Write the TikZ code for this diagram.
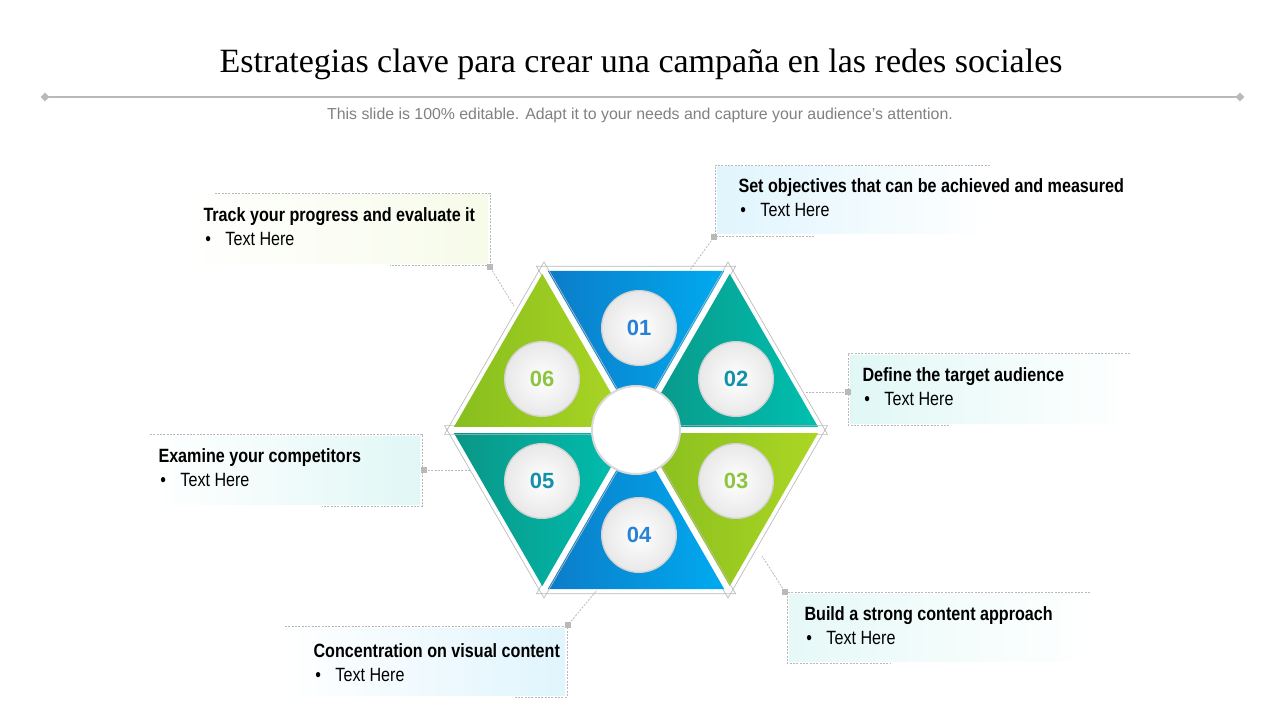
\documentclass[tikz,border=0pt]{standalone}
\usepackage{fontspec}
\setmainfont{Liberation Serif}
\setsansfont{Liberation Sans}
\newfontfamily\narrowfont[FakeStretch=0.84]{Liberation Sans}
\usetikzlibrary{calc,shapes.geometric}
\definecolor{hexblueA}{RGB}{12,124,200}
\definecolor{hexblueB}{RGB}{0,170,240}
\definecolor{hextealA}{RGB}{10,150,135}
\definecolor{hextealB}{RGB}{0,192,176}
\definecolor{hexgreenA}{RGB}{135,190,30}
\definecolor{hexgreenB}{RGB}{172,214,36}
\definecolor{numblue}{RGB}{40,130,215}
\definecolor{numteal}{RGB}{20,145,170}
\definecolor{numgreen}{RGB}{140,198,63}
\definecolor{lineGray}{RGB}{185,185,185}
\tikzset{every picture/.style={line width=0.75pt}}
\tikzset{
  callout/.style={draw=lineGray, line width=0.6pt, dash pattern={on 1.5pt off 1pt}},
  boxtext/.style={anchor=north west, inner sep=0pt, align=left, font=\narrowfont\fontsize{14.4}{18}\selectfont},
  numball/.style={circle, minimum size=56, inner sep=0pt, draw=gray!35, line width=1pt,
    inner color=white, outer color=gray!18, font=\sffamily\bfseries\fontsize{16.5}{16.5}\selectfont},
  dot/.style={fill=lineGray, inner sep=0pt, minimum size=5}
}
\newcommand{\itemline}{\\\hspace{0.1em}\textbullet\hspace{0.75em}Text Here}

\begin{document}
\begin{tikzpicture}[x=0.75pt,y=0.75pt,yscale=-1,xscale=1]
\path (0,0) rectangle (1280,720);

% Title
\node (title) at (641,64) {\fontsize{25.5}{25.5}\selectfont Estrategias clave para crear una campaña en las redes sociales};
\coordinate (rl) at (45,97);
\coordinate (rr) at (1240,97);
\draw [lineGray, line width=0.8pt] (rl) -- (rr);
\node [dot, diamond, minimum size=7] at (rl) {};
\node [dot, diamond, minimum size=7] at (rr) {};
\node [text=gray] (sub) at (640,115) {\sffamily\fontsize{11.9}{11.9}\selectfont This slide is 100\% editable. Adapt it to your needs and capture your audience's attention.};

% Hexagon
\coordinate (hc) at (636,430);
\foreach \k/\ca/\cb in {1/hexblueA/hexblueB,2/hextealA/hextealB,3/hexgreenA/hexgreenB,4/hexblueA/hexblueB,5/hextealA/hextealB,6/hexgreenA/hexgreenB}{
  \pgfmathsetmacro{\m}{60*\k-150}
  \coordinate (ap) at (hc);
  \coordinate (oa) at ($(hc)+(\m-30:186)$);
  \coordinate (ob) at ($(hc)+(\m+30:186)$);
  \coordinate (cen) at ($(hc)+(\m:124)$);
  \draw [lineGray, line width=0.5pt] ($(cen)!1.07!(ap)$) -- ($(cen)!1.07!(oa)$) -- ($(cen)!1.07!(ob)$) -- cycle;
  \shade [left color=\ca, right color=\cb] ($(cen)!0.95!(ap)$) -- ($(cen)!0.95!(oa)$) -- ($(cen)!0.95!(ob)$) -- cycle;
}
\node [circle, fill=white, draw=gray!30, line width=1.5pt, minimum size=66] (hub) at (hc) {};

\node [numball, text=numblue]  (n1) at (639,328) {01};
\node [numball, text=numteal]  (n2) at (736,379) {02};
\node [numball, text=numgreen] (n3) at (736,481) {03};
\node [numball, text=numblue]  (n4) at (639,535) {04};
\node [numball, text=numteal]  (n5) at (542,481) {05};
\node [numball, text=numgreen] (n6) at (542,379) {06};

% Box 06
\shade [left color=white, right color=hexgreenB!10] (185,195) rectangle (488,263);
\draw [callout] (215,193) -- (490,193) -- (490,265) -- (390,265);
\node [dot] (d6) at (490,267) {};
\coordinate (e6) at (514,306);
\draw [callout] (d6) -- (e6);
\node [boxtext] (t6) at (203,207) {\textbf{Track your progress and evaluate it}\itemline};

% Box 01
\shade [left color=hexblueB!12, right color=white] (717,167) rectangle (990,234);
\draw [callout] (990,165) -- (715,165) -- (715,236) -- (815,236);
\node [dot] (d1) at (714,237) {};
\coordinate (e1) at (690,270);
\draw [callout] (d1) -- (e1);
\node [boxtext] (t1) at (738,178) {\textbf{Set objectives that can be achieved and measured}\itemline};

% Box 02
\shade [left color=hextealB!12, right color=white] (850,355) rectangle (1130,423);
\draw [callout] (1130,353) -- (848,353) -- (848,425) -- (950,425);
\node [dot] (d2) at (848,392) {};
\coordinate (e2) at (805,392);
\draw [callout] (d2) -- (e2);
\node [boxtext] (t2) at (862,367) {\textbf{Define the target audience}\itemline};

% Box 05
\shade [left color=white, right color=hextealB!12] (150,436) rectangle (420,504);
\draw [callout] (150,434) -- (422,434) -- (422,506) -- (322,506);
\node [dot] (d5) at (424,470) {};
\coordinate (e5) at (470,470);
\draw [callout] (d5) -- (e5);
\node [boxtext] (t5) at (158,448) {\textbf{Examine your competitors}\itemline};

% Box 03
\shade [left color=hextealB!10, right color=white] (789,594) rectangle (1090,661);
\draw [callout] (1090,592) -- (787,592) -- (787,663) -- (890,663);
\node [dot] (d3) at (785,592) {};
\coordinate (e3) at (762,556);
\draw [callout] (d3) -- (e3);
\node [boxtext] (t3) at (804,606) {\textbf{Build a strong content approach}\itemline};

% Box 04
\shade [left color=white, right color=hexblueB!12] (285,628) rectangle (565,695);
\draw [callout] (285,626) -- (567,626) -- (567,697) -- (515,697);
\node [dot] (d4) at (568,625) {};
\coordinate (e4) at (597,590);
\draw [callout] (d4) -- (e4);
\node [boxtext] (t4) at (313,643) {\textbf{Concentration on visual content}\itemline};

\end{tikzpicture}
\end{document}
